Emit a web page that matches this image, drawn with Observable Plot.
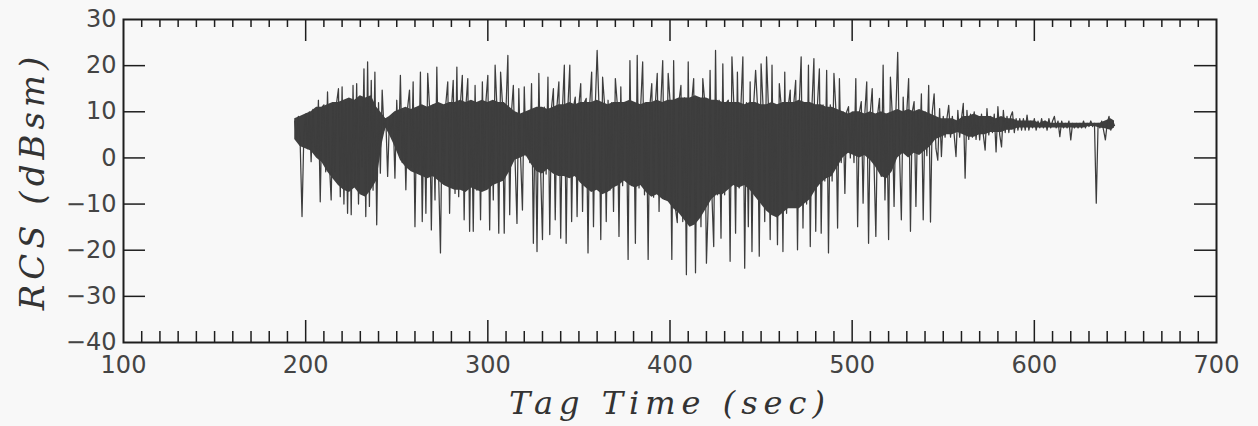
<!DOCTYPE html>
<html>
<head>
<meta charset="utf-8">
<script src="https://cdn.jsdelivr.net/npm/d3@7"></script>
<script src="https://cdn.jsdelivr.net/npm/@observablehq/plot@0.6"></script>
<style>
  html, body { margin: 0; padding: 0; background: #f8f8f8; }
  #chart svg { display: block; }
</style>
</head>
<body>
<div id="chart"></div>
<script>
// Tag time of first sample (sec); samples are 1 s apart
const t0 = 194;
// RCS (dBsm) (spikes and swings), one value per second, t = 194 ... 644
const rcs = [
  8, 4, 9, 3, -12.7, 5, 9.5, 2, 10, -0.8,
  10.5, 2.5, 1, 12.5, -9.5, 11, 11.5, -3, 14.3, -1,
  -9.1, 11.5, -3, 12, 15, -8.4, 15.4, -10, 12, -12,
  12.5, -12.3, 15.7, -6, 16.1, -10, 11, -2, 19.3, -12.7,
  20.8, -10.5, 16.8, -7, 18.6, -14.5, 12, -3.3, 14.7, 6,
  8.5, -4, 8.5, 5.5, 9.5, -4.4, 12.5, 1, 17.9, -1,
  10, -6.9, 11, 14.7, -2, 16.5, -14.9, 10.5, -3, 18.6,
  -13.8, 11, -12, 18.3, 11, -15.6, 11.5, -9.1, 19.7, -4,
  -20.6, 11, -5.5, 12, 16.5, -12, 10.5, 16.8, -7.7, 19.7,
  -8.4, 12, 17.9, -13.4, 11.5, 17.2, -15.9, 12, -15.9, 15.7,
  -7, 12, -13.4, 16.5, -6.5, 12.5, 17.9, -15.6, 11, -9.1,
  20.1, 11, -16.3, 18.6, 12, -16.3, 11, 22.2, -12.3, 10,
  15.7, -1, -14.2, 15, 0, -11.3, 15.4, 0.5, 10, -1,
  16.1, -18.5, 10.5, -20.3, 18.3, -3, -17.7, 11, -3.5, 17.5,
  -16.6, 11, 15, -13.4, 11.5, 16.5, -17.4, 11, 20.1, -18.5,
  11.5, 20.1, -13.8, 11, 13.2, -12.7, 11.5, 16.1, -11.6, 12,
  12.9, -20.6, 12, 18.6, -14.9, 11.5, 23.3, 11.5, -17.7, 17.5,
  12, -13.8, 12.5, -7, 12, -11.6, 17.2, 12, -17, 15.4,
  -6, 12, 11.5, -22, 21.1, -6, 12, -18.5, 22.2, -6.5,
  12, 20.8, -8, 12, -22, 11.5, 16.1, -8.5, 12, 18.3,
  -11.6, 12, 21.1, -9, -6.2, 18.3, 12.5, -22, 21.1, -11,
  -14, 12.5, 15.7, -13.8, 13, -25.3, 20.8, -13, 12.5, 17.2,
  -24.9, 13, 13, -14.9, 17.2, 12.5, -22.8, -10, 19, -8,
  -19.2, 23.3, -8, 12.5, -17.4, 20.4, -8, 12, 12.5, -22.4,
  21.9, 12, -16.3, 18.6, -6.5, 12, 21.9, -23.9, 12, -14.9,
  16.5, -20.3, 12, 19, 11.5, -21.3, 20.4, 12, -13.8, 21.9,
  11.5, -17.7, 20.1, -12, 11.5, -18.8, 16.1, 11.5, -20.3, 18.6,
  -12, 11.5, 14.7, -6.9, 12, 16.8, -19.9, 12, 21.9, -15.2,
  12, -10, 20.1, -19.2, 12, 21.5, -15.9, 12, 19.3, -16.3,
  11.5, -5, 19, -20.6, 11.5, -5, 18.3, 11, -15.2, 17.2,
  -1, 10, -7.7, 10, 11.1, 0, 10, -1, 17.2, -14.9,
  10, 12.2, -9.8, 10, 16.5, -18.5, 10, 15, -1, -17,
  9.5, 12.9, -4, 20.1, -9.1, 9.5, -17.7, 17.5, 9.5, -10.5,
  10, 22.9, 1, -13.4, 13.2, 1, 10, 17.2, -15.9, 10,
  12.2, -10.5, 10, 1, 13.9, -13.4, 10, 0.5, 15.7, -13.9,
  10, 13.9, 2, -0.5, 10.7, 0.3, 9, 4.5, 8.5, 11.4,
  4.5, 9, 5, 0.3, 10.3, 4.5, 8.5, 11.8, -4.4, 10.3,
  4, 9.5, 4.5, 10, 4, 9, 3.9, 9.5, 5, 1.7,
  10.7, 5, 9, 5.5, 9.5, 1.3, 11.1, 5, 2.4, 10.3,
  5.5, 9, 5.5, 9, 10, 5.5, 8.5, 6, 8.5, 6,
  8.5, 6, 9.3, 6, 8, 6.5, 8.5, 6, 8, 6.5,
  8.5, 6.5, 8, 6, 8.5, 6.5, 8, 9, 6.5, 8,
  4.6, 8, 6.5, 7.5, 6.5, 8, 3.9, 7.5, 6.5, 7.5,
  6.5, 7.5, 6.5, 8, 6.5, 7.5, 6.8, 8, 6.8, 7.5,
  -9.8, 7.5, 6.5, 8, 6, 3.9, 7.5, 9, 6, 8, 7
];

// Dense dark core of the trace: times (sec) with its upper and lower edge (dBsm)
const coreT = [194, 197, 200, 203, 206, 209, 212, 215, 218, 221, 224, 227, 230, 233, 236, 239,
  242, 244, 246, 249, 252, 255, 258, 261, 264, 267, 270, 273, 276, 279, 282, 285, 288, 291,
  294, 297, 300, 303, 306, 309, 312, 315, 318, 321, 324, 327, 330, 333, 336, 339, 342, 345,
  348, 351, 354, 357, 360, 363, 366, 369, 372, 375, 378, 381, 384, 387, 390, 393, 396, 399,
  402, 405, 408, 411, 414, 417, 420, 423, 426, 429, 432, 435, 438, 441, 444, 447, 450, 453,
  456, 459, 462, 465, 468, 471, 474, 477, 480, 483, 486, 489, 492, 495, 498, 501, 504, 507,
  510, 513, 516, 519, 522, 525, 528, 531, 534, 537, 540, 543, 546, 549, 552, 555, 558, 561,
  564, 567, 570, 573, 576, 579, 582, 585, 588, 591, 594, 597, 600, 603, 606, 609, 612, 615,
  618, 621, 624, 627, 630, 633, 636, 639, 642, 644];
const coreHi = [8.5, 9, 9.5, 10, 11, 11, 11.5, 12, 12, 12.5, 13, 12.5, 13.5, 13, 13.5, 11,
  9.5, 8.5, 9, 10, 10.5, 11, 10.5, 11, 11.5, 11, 11.5, 12, 11.5, 12, 12, 12.5, 12, 12.5,
  12, 12.5, 12, 12.5, 12, 12, 11, 10, 9.5, 10, 10.5, 11, 11, 10.5, 11, 11.5, 11.5, 12,
  11.5, 12, 12, 12, 12.5, 12, 11.5, 12, 12, 12, 12.5, 12, 11.5, 12, 12, 12.5, 12, 12.5,
  12.5, 13, 13, 13, 13.5, 13, 13, 12.5, 12.5, 12, 12, 12, 12, 11.5, 12, 12, 11.5, 11.5,
  12, 11.5, 12, 12, 12, 12.5, 12, 12, 11.5, 11.5, 11, 11, 10.5, 10, 9.5, 10, 10, 9.5,
  10, 9.5, 10, 9.5, 10, 10.5, 10, 10.5, 10, 10.5, 10, 9.5, 9, 8.5, 8.5, 8.5, 8, 9,
  9, 9.5, 9, 9, 9, 8.5, 9, 8.5, 8.5, 8, 8, 8, 8, 7.5, 8, 7.5, 7.5, 7.5,
  7.5, 7.5, 7.5, 7.5, 7.5, 7.5, 7.5, 8, 8.5, 8];
const coreLo = [4, 2.5, 2, 1.5, 0, -1, -3, -4.5, -6, -7, -7.5, -6.5, -8, -8.5, -7, -5,
  3, 6.5, 5, 2.5, -0.5, -2, -3, -3.5, -4, -4.5, -4, -5, -6, -6.5, -7, -7, -7.5, -6.5,
  -7, -7.5, -7, -6, -5.5, -5, -3, -0.5, 0, 0.5, -1.5, -3, -3.5, -2.5, -3.5, -4, -4, -4.5,
  -4, -5.5, -6.5, -7.5, -7, -8, -7.5, -6.5, -6, -5, -6, -6.5, -6, -7.5, -8.5, -8, -9, -9.5,
  -11, -12, -13.5, -15, -14.5, -13, -11, -9, -8, -8, -7, -6, -6.5, -6, -7, -8.5, -10, -11.5,
  -12.5, -13, -12, -11, -11, -11, -10, -9, -7, -5.5, -4.5, -4, -2, 0, 1, 0.5, 0, 0.5,
  -0.5, -2, -4, -4.5, -3, 0, 1, 0, 1, 0.5, 1.5, 2.5, 4, 4.5, 5, 5, 5.5, 5,
  4.5, 4.5, 5, 5, 5.5, 5.5, 5.5, 6, 6, 6.5, 6.5, 6.5, 6.5, 6.5, 6.5, 6.5, 6.5, 6.5,
  6.5, 6.5, 6.5, 6.5, 6.8, 6.8, 6.5, 6.3, 6, 6.5];

// Axis tick values and titles
const xTicks = [100, 200, 300, 400, 500, 600, 700];
const yTicks = [-40, -30, -20, -10, 0, 10, 20, 30];
const xTitle = "Tag Time (sec)";
const yTitle = "RCS (dBsm)";

const data = rcs.map((v, i) => ({t: t0 + i, v}));
const core = coreT.map((t, i) => ({t, hi: coreHi[i], lo: coreLo[i]}));
const xMajorInner = xTicks.slice(1, -1);
const xMinor = d3.range(110, 700, 10).filter(d => d % 100 !== 0);
const yInner = yTicks.slice(1, -1);

const W = 1258, H = 426;
const mL = 123, mR = 42, mT = 19, mB = 84;
const pw = W - mL - mR, ph = H - mT - mB;
const fmt = d => d < 0 ? "\u2212" + (-d) : String(d);
const ink = "#1e1e1e";

const chart = Plot.plot({
  width: W, height: H,
  marginLeft: mL, marginRight: mR, marginTop: mT, marginBottom: mB,
  x: {domain: [100, 700]},
  y: {domain: [-40, 30]},
  style: {background: "transparent", overflow: "visible"},
  marks: [
    Plot.areaY(core, {x: "t", y1: "lo", y2: "hi", fill: "#2a2a2a", fillOpacity: 0.9}),
    Plot.line(data, {x: "t", y: "v", stroke: "#3d3d3d", strokeWidth: 1.25}),
    // inward tick marks
    Plot.ruleY(yInner, {y: d => d, stroke: ink, strokeWidth: 1.5, insetRight: pw - 22}),
    Plot.ruleY(yInner, {y: d => d, stroke: ink, strokeWidth: 1.5, insetLeft: pw - 22}),
    Plot.ruleX(xMinor, {x: d => d, stroke: ink, strokeWidth: 1.5, insetBottom: ph - 8}),
    Plot.ruleX(xMajorInner, {x: d => d, stroke: ink, strokeWidth: 1.5, insetBottom: ph - 22}),
    Plot.ruleX(xMinor, {x: d => d, stroke: ink, strokeWidth: 1.5, insetTop: ph - 11}),
    Plot.ruleX(xMajorInner, {x: d => d, stroke: ink, strokeWidth: 1.5, insetTop: ph - 22}),
    Plot.frame({stroke: ink, strokeWidth: 2}),
    Plot.axisY({ticks: yTicks, tickSize: 0, tickPadding: 7, tickFormat: fmt,
      fontSize: 24, fontFamily: "DejaVu Sans", color: "#444", label: null}),
    Plot.axisX({ticks: xTicks, tickSize: 0, tickPadding: 13, tickFormat: fmt,
      fontSize: 24, fontFamily: "DejaVu Sans", color: "#444", label: null}),
    Plot.text([yTitle], {text: d => d, frameAnchor: "left", dx: -90, rotate: -90,
      textAnchor: "middle", lineAnchor: "middle", fontSize: 34, fontStyle: "italic",
      fontFamily: "DejaVu Serif", fill: "#333"}),
    Plot.text([xTitle], {text: d => d, frameAnchor: "bottom", dy: 71,
      textAnchor: "middle", lineAnchor: "bottom", fontSize: 32, fontStyle: "italic",
      fontFamily: "DejaVu Serif", fill: "#333"})
  ]
});
d3.select(chart).selectAll("text")
  .filter(function() { return this.textContent === yTitle; })
  .style("letter-spacing", "5px");
d3.select(chart).selectAll("text")
  .filter(function() { return this.textContent === xTitle; })
  .style("letter-spacing", "6px");
document.getElementById("chart").appendChild(chart);
</script>
</body>
</html>
